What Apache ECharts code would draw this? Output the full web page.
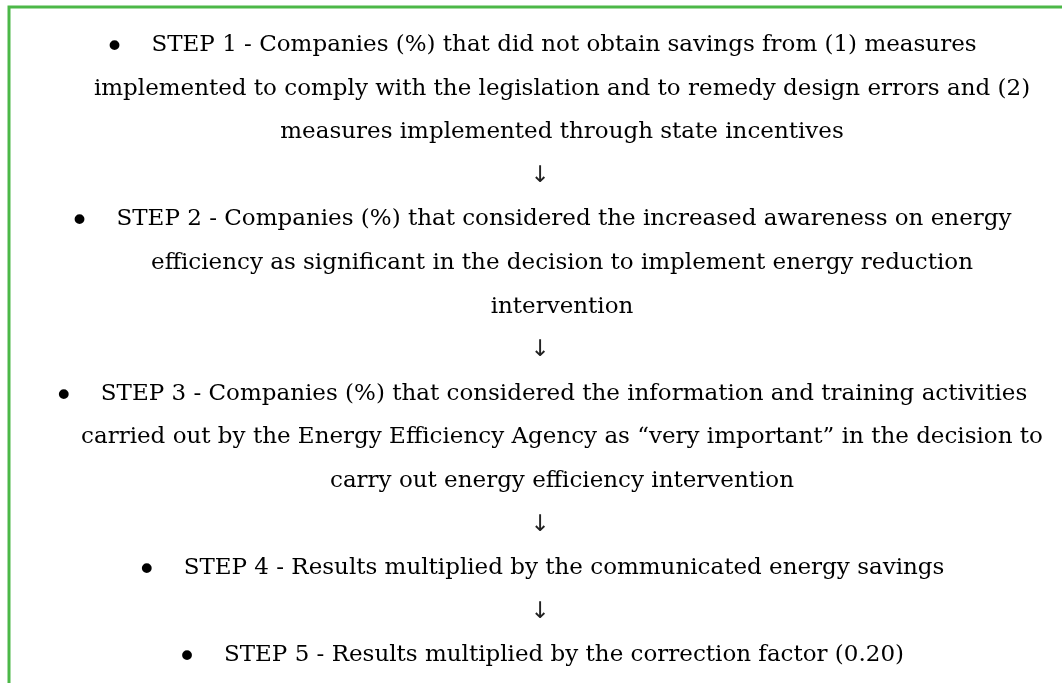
<!DOCTYPE html>
<html>
<head>
<meta charset="utf-8">
<script src="https://cdn.jsdelivr.net/npm/echarts@6/dist/echarts.min.js"></script>
<style>
html,body{margin:0;padding:0;background:#fff;}
#chart{width:1062px;height:683px;}
</style>
</head>
<body>
<div id="chart"></div>
<script>
// Text content of the flow
const step1 = [
  'STEP 1 - Companies (%) that did not obtain savings from (1) measures',
  'implemented to comply with the legislation and to remedy design errors and (2)',
  'measures implemented through state incentives'
];
const step2 = [
  'STEP 2 - Companies (%) that considered the increased awareness on energy',
  'efficiency as significant in the decision to implement energy reduction',
  'intervention'
];
const step3 = [
  'STEP 3 - Companies (%) that considered the information and training activities',
  'carried out by the Energy Efficiency Agency as \u201cvery important\u201d in the decision to',
  'carry out energy efficiency intervention'
];
const step4 = ['STEP 4 - Results multiplied by the communicated energy savings'];
const step5 = ['STEP 5 - Results multiplied by the correction factor (0.20)'];
const steps = [step1, step2, step3, step4, step5];
const arrowLabel = '\u2193';
const bulletLabel = '\u2022';

const FONT_FAMILY = '"DejaVu Serif", "Liberation Serif", serif';
const FONT_SIZE = 23;
const TOP = 45, LINE_H = 43.6;
const CX_FIRST = 542, CX_WRAP = 562, CX_ARROW = 540;
const BULLET_GAP = 44;

const measureCtx = document.createElement('canvas').getContext('2d');
measureCtx.font = FONT_SIZE + 'px ' + FONT_FAMILY;

const chart = echarts.init(document.getElementById('chart'), null, {renderer: 'canvas'});
const elements = [];
elements.push({
  type: 'rect',
  shape: {x: 9, y: 7, width: 1100, height: 720},
  style: {fill: 'none', stroke: '#4cb848', lineWidth: 3},
  silent: true
});
let row = 0;
steps.forEach(function (lines, si) {
  lines.forEach(function (line, li) {
    const y = TOP + row * LINE_H;
    if (li === 0) {
      const w = measureCtx.measureText(line).width;
      const start = CX_FIRST - (BULLET_GAP + w) / 2;
      elements.push({
        type: 'text', x: start - 3, y: y + 4,
        style: {
          text: bulletLabel, align: 'left', verticalAlign: 'middle',
          fontSize: 34, fontFamily: '"DejaVu Sans", sans-serif', fill: '#000'
        }
      });
      elements.push({
        type: 'text', x: start + BULLET_GAP, y: y,
        style: {
          text: line, align: 'left', verticalAlign: 'middle',
          fontSize: FONT_SIZE, fontFamily: FONT_FAMILY, fill: '#000'
        }
      });
    } else {
      elements.push({
        type: 'text',
        x: CX_WRAP, y: y,
        style: {
          text: line, align: 'center', verticalAlign: 'middle',
          fontSize: FONT_SIZE, fontFamily: FONT_FAMILY, fill: '#000'
        }
      });
    }
    row++;
  });
  if (si < steps.length - 1) {
    elements.push({
      type: 'text',
      x: CX_ARROW, y: TOP + row * LINE_H,
      style: {
        text: arrowLabel, align: 'center', verticalAlign: 'middle',
        fontSize: FONT_SIZE, fontFamily: '"DejaVu Sans", sans-serif', fill: '#222'
      }
    });
    row++;
  }
});
chart.setOption({
  backgroundColor: '#fff',
  animation: false,
  graphic: {elements: elements}
});
</script>
</body>
</html>
